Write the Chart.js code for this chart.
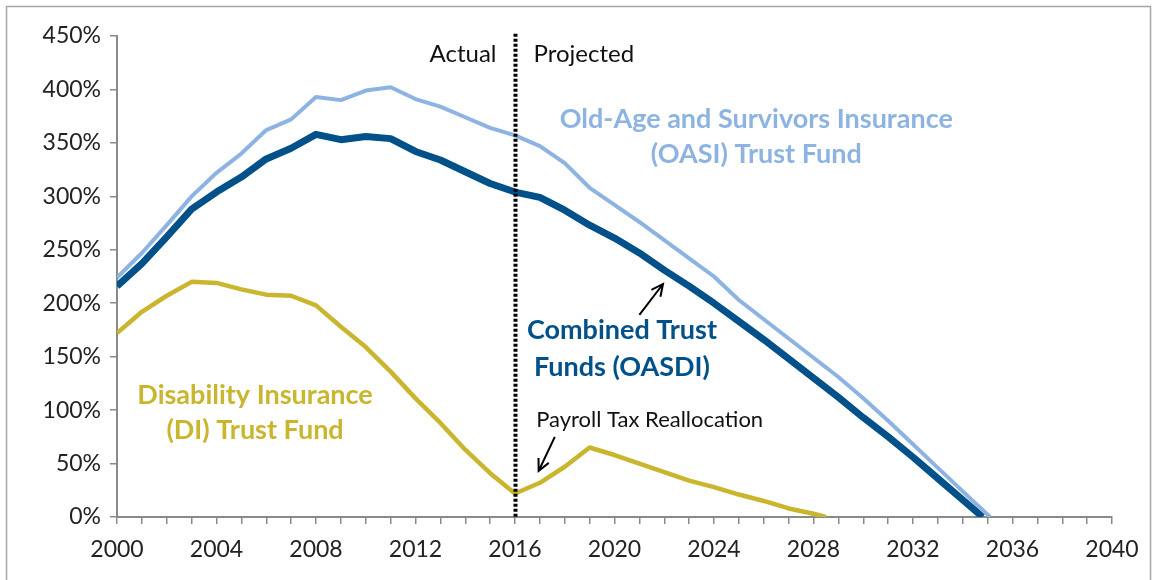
<!DOCTYPE html>
<html>
<head>
<meta charset="utf-8">
<script src="https://cdn.jsdelivr.net/npm/chart.js@4/dist/chart.umd.min.js"></script>
<style>
  html, body { margin: 0; padding: 0; background: #fff; }
  #wrap { width: 1156px; height: 580px; position: relative; }
</style>
</head>
<body>
<div id="wrap"><canvas id="mainChart"></canvas></div>
<script>
// years shared by the three series (annual values, % of annual cost)
const years = [2000, 2001, 2002, 2003, 2004, 2005, 2006, 2007, 2008, 2009,
               2010, 2011, 2012, 2013, 2014, 2015, 2016, 2017, 2018, 2019,
               2020, 2021, 2022, 2023, 2024, 2025, 2026, 2027, 2028, 2029,
               2030, 2031, 2032, 2033, 2034];

const oasiValues = [224, 247, 273, 300, 322, 340, 362, 372, 393, 390,
                    399, 402, 391, 384, 374, 364, 357, 347, 331, 308,
                    292, 276, 259, 242, 225, 203, 185, 167, 149, 131,
                    111, 90, 68, 46, 24];
const oasdiValues = [216, 237, 262, 288, 304, 318, 335, 345, 358, 353,
                     356, 354, 342, 334, 323, 312, 304, 299, 287, 273,
                     261, 247, 231, 216, 200, 183, 166, 148, 130, 112,
                     93, 75, 56, 36, 16];
const diValues = [172, 192, 207, 220, 219, 213, 208, 207, 198, 178,
                  159, 136, 111, 88, 63, 41, 22, 32, 47, 65,
                  58, 50, 42, 34, 28, 21, 15, 8, 3];

// depletion points (fund reaches 0%)
const oasiEnd = 2035.1;
const oasdiEnd = 2034.8;
const diEnd = 2028.5;

const lastActual = 2016;

const colors = {
    oasi: "#8db3e2",
    oasdi: "#00518a",
    di: "#c9b52e",
    axis: "#8a8a8a",
    text: "#222222",
};

function toPoints(values, end) {
    const pts = values.map((v, i) => ({ x: years[i], y: v }));
    pts.push({ x: end, y: 0 });
    return pts;
}

const font = "Lato, 'Open Sans', sans-serif";

function drawArrow(ctx, x1, y1, x2, y2) {
    const ang = Math.atan2(y2 - y1, x2 - x1);
    const len = 13;
    ctx.beginPath();
    ctx.moveTo(x1, y1);
    ctx.lineTo(x2, y2);
    ctx.moveTo(x2 - len * Math.cos(ang - 0.45), y2 - len * Math.sin(ang - 0.45));
    ctx.lineTo(x2, y2);
    ctx.lineTo(x2 - len * Math.cos(ang + 0.45), y2 - len * Math.sin(ang + 0.45));
    ctx.stroke();
}

const annotations = {
    id: "annotations",
    beforeDraw(chart) {
        const ctx = chart.ctx;
        ctx.save();
        ctx.fillStyle = "#ffffff";
        ctx.fillRect(0, 0, chart.width, chart.height);
        ctx.strokeStyle = "#a6a6a6";
        ctx.lineWidth = 1.5;
        ctx.strokeRect(6.5, 6.5, chart.width - 12, chart.height - 4);
        ctx.restore();
    },
    afterDatasetsDraw(chart) {
        const ctx = chart.ctx;
        const xs = chart.scales.x;
        const ys = chart.scales.y;
        const px = (v) => xs.getPixelForValue(v);
        const py = (v) => ys.getPixelForValue(v);
        ctx.save();

        // actual / projected divider
        const lx = Math.round(px(lastActual)) + 0.5;
        ctx.strokeStyle = "#000";
        ctx.lineWidth = 4;
        ctx.setLineDash([3, 2]);
        ctx.beginPath();
        ctx.moveTo(lx, py(452));
        ctx.lineTo(lx, py(0));
        ctx.stroke();
        ctx.setLineDash([]);

        ctx.textBaseline = "middle";
        ctx.fillStyle = "#111";
        ctx.font = "24px " + font;
        ctx.textAlign = "right";
        ctx.fillText("Actual", lx - 19, py(433));
        ctx.textAlign = "left";
        ctx.fillText("Projected", lx + 18, py(433));

        // series labels
        ctx.textAlign = "center";
        ctx.font = "bold 27px " + font;
        ctx.fillStyle = colors.oasi;
        ctx.fillText("Old-Age and Survivors Insurance", px(2025.7), py(372));
        ctx.fillText("(OASI) Trust Fund", px(2025.7), py(339));

        ctx.fillStyle = colors.oasdi;
        ctx.fillText("Combined Trust", px(2020.3), py(175));
        ctx.fillText("Funds (OASDI)", px(2020.3), py(140));

        ctx.fillStyle = colors.di;
        ctx.fillText("Disability Insurance", px(2005.55), py(114));
        ctx.fillText("(DI) Trust Fund", px(2005.55), py(81));

        ctx.fillStyle = "#111";
        ctx.font = "22px " + font;
        ctx.textAlign = "left";
        ctx.fillText("Payroll Tax Reallocation", px(2016.85), py(91));

        // pointer arrows
        ctx.strokeStyle = "#000";
        ctx.lineWidth = 2;
        drawArrow(ctx, px(2017.6), py(75), px(2016.95), py(43));
        drawArrow(ctx, px(2021.0), py(189), px(2021.95), py(218));

        ctx.restore();
    },
};

const ctx = document.getElementById("mainChart").getContext("2d");

new Chart(ctx, {
    type: "line",
    data: {
        datasets: [
            {
                label: "DI",
                data: toPoints(diValues, diEnd),
                borderColor: colors.di,
                borderWidth: 4.5,
            },
            {
                label: "OASI",
                data: toPoints(oasiValues, oasiEnd),
                borderColor: colors.oasi,
                borderWidth: 4,
            },
            {
                label: "OASDI",
                data: toPoints(oasdiValues, oasdiEnd),
                borderColor: colors.oasdi,
                borderWidth: 7,
            },
        ],
    },
    options: {
        responsive: true,
        maintainAspectRatio: false,
        animation: false,
        events: [],
        elements: {
            point: { radius: 0 },
            line: { tension: 0, borderJoinStyle: "round", borderCapStyle: "butt", fill: false },
        },
        layout: { padding: { top: 36, right: 44, bottom: 0, left: 0 } },
        plugins: {
            legend: { display: false },
            tooltip: { enabled: false },
        },
        scales: {
            x: {
                type: "linear",
                min: 2000,
                max: 2040,
                afterFit: (s) => { s.height = 63; },
                ticks: {
                    stepSize: 1,
                    autoSkip: false,
                    maxRotation: 0,
                    padding: 12,
                    color: colors.text,
                    font: { family: font, size: 23 },
                    callback: (v) => (v % 4 === 0 ? String(v) : ""),
                },
                grid: {
                    drawOnChartArea: false,
                    drawTicks: true,
                    tickLength: 7,
                    color: colors.axis,
                    lineWidth: 1.5,
                },
                border: { color: colors.axis, width: 2 },
            },
            y: {
                min: 0,
                max: 450,
                afterFit: (s) => { s.width = 117; },
                ticks: {
                    stepSize: 50,
                    padding: 9,
                    color: colors.text,
                    font: { family: font, size: 23 },
                    callback: (v) => v + "%",
                },
                grid: {
                    drawOnChartArea: false,
                    drawTicks: true,
                    tickLength: 7,
                    color: colors.axis,
                    lineWidth: 1.5,
                },
                border: { color: colors.axis, width: 2 },
            },
        },
    },
    plugins: [annotations],
});
</script>
</body>
</html>
